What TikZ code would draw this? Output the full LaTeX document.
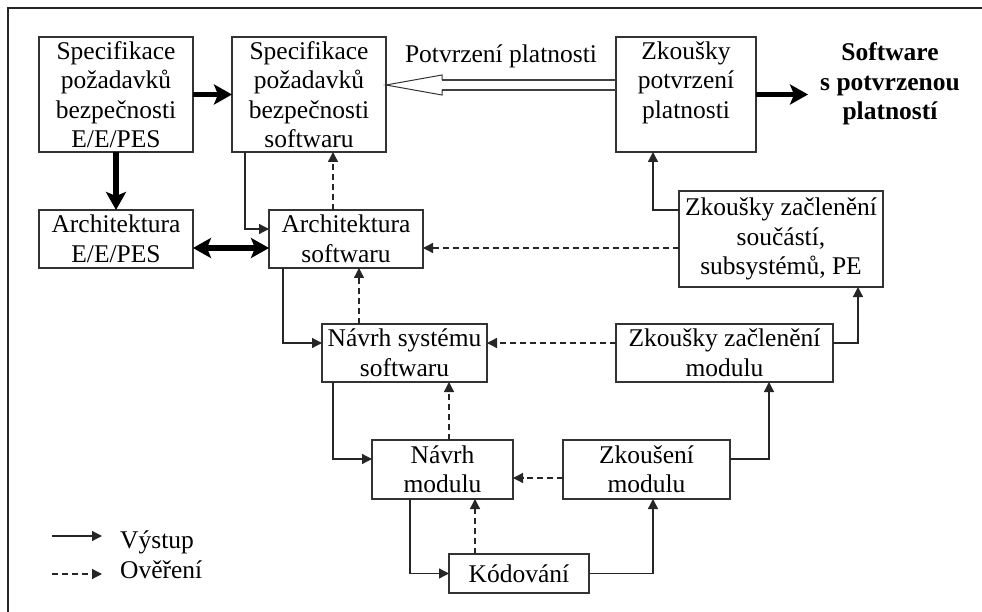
\documentclass[tikz,border=0pt]{standalone}
\usepackage{fontspec}
\setmainfont{Liberation Serif}
\usetikzlibrary{arrows.meta,calc}
\tikzset{
  box/.style={draw=black!80, line width=1.1pt, inner sep=0pt, outer sep=0pt, align=center, text=black,
    font=\fontsize{25.5}{29.5}\selectfont},
  lbl/.style={inner sep=0pt, align=center, font=\fontsize{25.5}{29.5}\selectfont},
  outarrow/.style={draw=black!85, line width=1.3pt, -{Triangle[length=10pt,width=10pt]}},
  verarrow/.style={draw=black!85, line width=1.3pt, dash pattern=on 6pt off 4pt, -{Triangle[length=10pt,width=10pt]}},
  thickarrow/.style={draw=black, line width=5.5pt, -{Stealth[length=18pt,width=20pt,inset=4pt]}},
  thickboth/.style={draw=black, line width=5.5pt, {Stealth[length=18pt,width=20pt,inset=4pt]}-{Stealth[length=18pt,width=20pt,inset=4pt]}},
}
\begin{document}
\begin{tikzpicture}[x=1pt,y=-1pt]
\useasboundingbox (0,0) rectangle (982,612);
% frame
\coordinate (fa) at (8,612);
\coordinate (fb) at (8,8);
\coordinate (fc) at (982,8);
\draw[line width=1.5pt, black!85] (fa) -- (fb) -- (fc);

% boxes
\node[box, minimum width=154pt, minimum height=115pt] (A) at (116,94.5) {Specifikace\\požadavků\\bezpečnosti\\E/E/PES};
\node[box, minimum width=154pt, minimum height=115pt] (B) at (309,94.5) {Specifikace\\požadavků\\bezpečnosti\\softwaru};
\node[box, minimum width=154pt, minimum height=58pt] (C) at (116,239) {Architektura\\E/E/PES};
\node[box, minimum width=154pt, minimum height=58pt] (D) at (346,239) {Architektura\\softwaru};
\node[box, minimum width=140pt, minimum height=115pt] (E) at (686,94.5) {Zkoušky\\potvrzení\\platnosti\\\mbox{}};
\node[box, minimum width=204pt, minimum height=96pt] (F) at (781,239) {Zkoušky začlenění\\součástí,\\subsystémů, PE};
\node[box, minimum width=165pt, minimum height=58pt] (G) at (404.5,353) {Návrh systému\\softwaru};
\node[box, minimum width=217pt, minimum height=58pt] (H) at (724.5,353) {Zkoušky začlenění\\modulu};
\node[box, minimum width=141pt, minimum height=59pt] (I) at (442.5,469.5) {Návrh\\modulu};
\node[box, minimum width=167pt, minimum height=59pt] (J) at (646.5,469.5) {Zkoušení\\modulu};
\node[box, minimum width=140pt, minimum height=39pt] (K) at (519,573.5) {Kódování};

% free texts
\node[lbl] (pp) at (501,56) {Potvrzení platnosti};
\node[lbl, font=\fontsize{25.5}{29.5}\selectfont\bfseries] (soft) at (890,84) {Software\\s potvrzenou\\platností};

% thick arrows
\draw[thickarrow] (A.east) -- (B.west);
\draw[thickarrow] (A.south) -- (C.north);
\draw[thickboth] ([yshift=-9pt]C.east) -- ([yshift=-9pt]D.west);
\draw[thickarrow] (E.east) -- ([xshift=-12pt]E.east -| soft.west);

% hollow validation arrow
\coordinate (vt) at ([yshift=9.5pt]B.east);
\coordinate (ve) at (vt -| E.west);
\draw[line width=1.8pt, black!75] ($(ve)+(0,-5)$) -- ($(vt)+(56,-5)$);
\draw[line width=1.8pt, black!75] ($(ve)+(0,5)$) -- ($(vt)+(56,5)$);
\draw[line width=1pt, black!80, line join=miter] ($(vt)+(56,-5)$) -- ($(vt)+(56,-10)$) -- (vt) -- ($(vt)+(56,10)$) -- ($(vt)+(56,5)$);

% outputs (solid)
\draw[outarrow] ([xshift=-64pt]B.south) |- ([yshift=10pt]D.west);
\draw[outarrow] ([yshift=29pt]F.west) -| ([xshift=-33pt]E.south);
\draw[outarrow] ([xshift=-63pt]D.south) |- ([yshift=10pt]G.west);
\draw[outarrow] ([yshift=10pt]H.east) -| ([xshift=77pt]F.south);
\draw[outarrow] ([xshift=-71.5pt]G.south) |- ([yshift=10.5pt]I.west);
\draw[outarrow] ([yshift=10.5pt]J.east) -| ([xshift=44.5pt]H.south);
\draw[outarrow] ([xshift=-32.5pt]I.south) |- (K.west);
\draw[outarrow] (K.east) -| ([xshift=6.5pt]J.south);

% verifications (dashed)
\draw[verarrow] ([xshift=-13pt]D.north) -- ([xshift=-13pt]D.north |- B.south);
\draw[verarrow] ([yshift=-9pt]F.west) -- ([yshift=-9pt]F.west -| D.east);
\draw[verarrow] ([xshift=-45.5pt]G.north) -- ([xshift=-45.5pt]G.north |- D.south);
\draw[verarrow] ([yshift=10pt]H.west) -- ([yshift=10pt]H.west -| G.east);
\draw[verarrow] ([xshift=6.5pt]I.north) -- ([xshift=6.5pt]I.north |- G.south);
\draw[verarrow] ([yshift=-8.5pt]J.west) -- ([yshift=-8.5pt]J.west -| I.east);
\draw[verarrow] ([xshift=-44pt]K.north) -- ([xshift=-44pt]K.north |- I.south);

% legend
\coordinate (l1a) at (52,536);
\coordinate (l1b) at (102,536);
\coordinate (l2a) at (52,574);
\coordinate (l2b) at (102,574);
\draw[outarrow] (l1a) -- (l1b);
\draw[verarrow] (l2a) -- (l2b);
\node[lbl, anchor=base west] (lv) at (120,548) {Výstup};
\node[lbl, anchor=base west] (lo) at (120,578) {Ověření};
\end{tikzpicture}
\end{document}
